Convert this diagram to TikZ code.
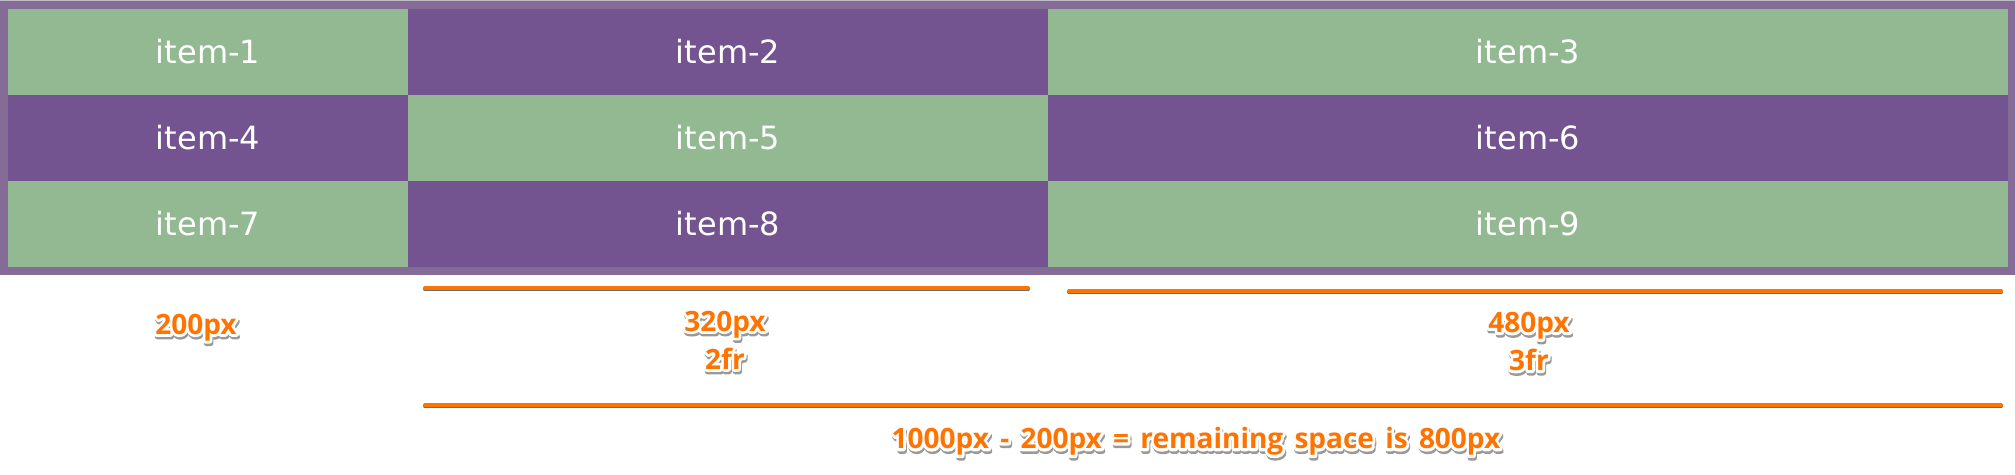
\documentclass[tikz,border=0pt]{standalone}
\usepackage{fontspec}
\setmainfont{DejaVu Sans}
\newfontfamily\labfont{Open Sans}[WordSpace=1.55]
\definecolor{framec}{RGB}{132,108,150}
\definecolor{topline}{RGB}{190,185,195}
\definecolor{cgreen}{RGB}{146,185,146}
\definecolor{cpurple}{RGB}{115,84,145}
\definecolor{orng}{RGB}{255,115,0}
\definecolor{lineshadow}{RGB}{110,110,110}
\definecolor{textshadow}{RGB}{153,153,153}
\newcommand\strokeon[2]{\special{pdf:literal direct 2 Tr #1 w 1 j #2 RG}}
\newcommand\strokeoff{\special{pdf:literal direct 0 Tr}}
\tikzset{
  cell/.style={inner sep=0pt, text=white, minimum height=43pt,
    font=\fontsize{16}{19}\selectfont},
  gcell/.style={cell, fill=cgreen},
  pcell/.style={cell, fill=cpurple},
  lab/.style={inner sep=0pt, align=center,
    font=\labfont\bfseries\fontsize{14}{19}\selectfont},
  bar/.style={line width=2pt, draw=orng, line cap=round},
  barshadow/.style={line width=2pt, draw=lineshadow, line cap=round}
}
\newcommand\olab[3]{%
  \node[lab,text=textshadow] at ([shift={(1,2.5)}]#2) {\strokeon{2.6}{0.6 0.6 0.6}#3\strokeoff};
  \node[lab,text=white] at (#2) {\strokeon{2.6}{1 1 1}#3\strokeoff};
  \node[lab,text=orng] (#1) at (#2) {#3};}
\begin{document}
\begin{tikzpicture}[x=0.5pt,y=-0.5pt]
\useasboundingbox (0,0) rectangle (2015,475);
\fill[framec] (0,0) rectangle (2015,275);
\fill[topline] (0,0) rectangle (2015,1.5);
% row 1
\node[gcell, minimum width=200pt] (i1) at (208,52) {item-1};
\node[pcell, minimum width=320pt] (i2) at (728,52) {item-2};
\node[gcell, minimum width=480pt] (i3) at (1528,52) {item-3};
% row 2
\node[pcell, minimum width=200pt] (i4) at (208,138) {item-4};
\node[gcell, minimum width=320pt] (i5) at (728,138) {item-5};
\node[pcell, minimum width=480pt] (i6) at (1528,138) {item-6};
% row 3
\node[gcell, minimum width=200pt] (i7) at (208,224) {item-7};
\node[pcell, minimum width=320pt] (i8) at (728,224) {item-8};
\node[gcell, minimum width=480pt] (i9) at (1528,224) {item-9};
% bars
\coordinate (a1) at (425,288); \coordinate (a2) at (1028,288);
\coordinate (b1) at (1069,291); \coordinate (b2) at (2001,291);
\coordinate (c1) at (425,405); \coordinate (c2) at (2001,405);
\foreach \p/\q in {a1/a2,b1/b2,c1/c2}{
  \draw[barshadow] ([yshift=-0.7pt]\p) -- ([yshift=-0.7pt]\q);
  \draw[bar] (\p) -- (\q);}
% labels
\olab{l1}{196,327.5}{200px}
\olab{l2}{725,340}{320px\\2fr}
\olab{l3}{1529,341.5}{480px\\3fr}
\olab{l4}{1196,441.5}{1000px - 200px = remaining space is 800px}
\end{tikzpicture}
\end{document}
